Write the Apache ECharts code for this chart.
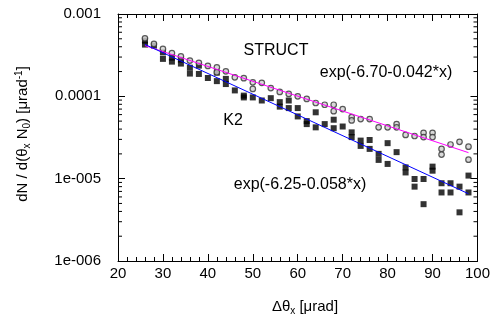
<!DOCTYPE html>
<html><head><meta charset="utf-8">
<script src="https://cdn.jsdelivr.net/npm/echarts@6/dist/echarts.min.js"></script>
<style>html,body{margin:0;padding:0;background:#fff}#c{width:493px;height:320px}</style>
</head><body><div id="c"></div>
<script>
// ---- data ----
const xValues = [26,28,30,32,34,36,38,40,42,44,46,48,50,52,54,56,58,60,62,64,66,68,70,72,74,76,78,80,82,84,86,88,90,92,94,96,98];
const structA = [5.07e-4,4.33e-4,3.77e-4,3.35e-4,3.05e-4,2.72e-4,2.55e-4,2.34e-4,2.25e-4,2.01e-4,1.70e-4,1.66e-4,1.48e-4,1.46e-4,1.26e-4,1.13e-4,1.07e-4,1.00e-4,9.3e-5,8.3e-5,7.9e-5,7.9e-5,7.0e-5,5.6e-5,5.3e-5,5.3e-5,4.2e-5,4.2e-5,4.6e-5,3.4e-5,3.3e-5,3.6e-5,3.6e-5,2.3e-5,2.6e-5,2.8e-5,2.45e-5];
const structBX = [42,50,68,72,82,88,90,92,98];
const structBY = [1.96e-4,1.23e-4,6.6e-5,5.1e-5,4.2e-5,3.2e-5,3.2e-5,1.96e-5,1.7e-5];
const k2A = [4.75e-4,4.13e-4,3.42e-4,2.95e-4,2.79e-4,2.23e-4,2.36e-4,1.67e-4,1.94e-4,1.63e-4,1.18e-4,1.02e-4,9.7e-5,8.9e-5,9.5e-5,8.5e-5,8.9e-5,7.2e-5,5.0e-5,6.4e-5,4.6e-5,5.2e-5,4.3e-5,3.65e-5,2.9e-5,2.95e-5,2.0e-5,2.7e-5,2.1e-5,1.37e-5,9.9e-6,9.9e-6,1.40e-5,8.8e-6,8.8e-6,8.0e-6,1.09e-5];
const k2BX = [26,30,32,34,36,38,42,44,48,56,58,60,62,64,68,72,74,76,78,80,84,86,88,90,92,94,96,98];
const k2BY = [4.25e-4,2.85e-4,2.64e-4,2.50e-4,1.89e-4,1.87e-4,1.53e-4,1.41e-4,9.7e-5,7.5e-5,7.2e-5,5.7e-5,4.6e-5,4.2e-5,4.1e-5,3.2e-5,2.5e-5,2.3e-5,1.69e-5,1.51e-5,1.19e-5,8.0e-6,4.9e-6,1.25e-5,6.8e-6,6.8e-6,3.9e-6,6.8e-6];
const fitX = [26, 98];
const structFit = [4.13e-4, 2.07e-5];
const k2Fit = [4.27e-4, 6.56e-6];
const xTickLabels = ['20','30','40','50','60','70','80','90','100'];
const yTickLabels = ['1e-006','1e-005','0.0001','0.001'];
const yMinorTicks = [2e-6,3e-6,4e-6,5e-6,6e-6,7e-6,8e-6,9e-6,2e-5,3e-5,4e-5,5e-5,6e-5,7e-5,8e-5,9e-5,2e-4,3e-4,4e-4,5e-4,6e-4,7e-4,8e-4,9e-4];

const FONT = 'Liberation Sans';
const pairs = (xs, ys) => xs.map((x, i) => [x, ys[i]]);
const chart = echarts.init(document.getElementById('c'), null, {renderer: 'canvas'});

const axisCommonX = {
  type: 'value', min: 20, max: 100, interval: 10,
  axisLine: {show: true, onZero: false, lineStyle: {color: '#000', width: 1}},
  axisTick: {show: true, inside: true, length: 7, lineStyle: {color: '#000', width: 1}},
  minorTick: {show: true, splitNumber: 5, length: 4, lineStyle: {color: '#000', width: 1}},
  splitLine: {show: false}, minorSplitLine: {show: false}
};
const axisCommonY = {
  type: 'log', logBase: 10, min: 1e-6, max: 1e-3,
  axisLine: {show: true, onZero: false, lineStyle: {color: '#000', width: 1}},
  axisTick: {show: true, inside: true, length: 7, lineStyle: {color: '#000', width: 1}},
  splitLine: {show: false}
};
const circleStyle = {color: '#d0d0d0', borderColor: '#333', borderWidth: 1.2};

const option = {
  animation: false,
  backgroundColor: '#fff',
  grid: {left: 118, right: 15, top: 14, bottom: 59, containLabel: false},
  xAxis: [
    Object.assign({}, axisCommonX, {position: 'bottom',
      axisLabel: {color: '#000', fontSize: 15, fontFamily: FONT, margin: 5,
        formatter: (v, i) => xTickLabels[i]}}),
    Object.assign({}, axisCommonX, {position: 'top', axisLabel: {show: false}})
  ],
  yAxis: [
    Object.assign({}, axisCommonY, {position: 'left',
      axisLabel: {color: '#000', fontSize: 15, fontFamily: FONT, margin: 17,
        formatter: v => yTickLabels[Math.round(Math.log10(v)) + 6]}}),
    Object.assign({}, axisCommonY, {position: 'right', axisLabel: {show: false}})
  ],
  series: [
    {
      type: 'custom', xAxisIndex: 0, yAxisIndex: 0, clip: false, silent: true,
      data: yMinorTicks.map(v => [20, v]),
      renderItem: (params, api) => {
        const v = api.value(1);
        const p1 = api.coord([20, v]);
        const p2 = api.coord([100, v]);
        const st = {stroke: '#000', lineWidth: 1};
        return {type: 'group', children: [
          {type: 'line', shape: {x1: p1[0], y1: p1[1], x2: p1[0] + 4, y2: p1[1]}, style: st},
          {type: 'line', shape: {x1: p2[0] - 4, y1: p2[1], x2: p2[0], y2: p2[1]}, style: st}
        ]};
      }
    },
    {type: 'scatter', data: pairs(xValues, k2A), symbol: 'rect', symbolSize: 6, itemStyle: {color: '#000'}},
    {type: 'scatter', data: pairs(k2BX, k2BY), symbol: 'rect', symbolSize: 6, itemStyle: {color: '#000'}},
    {type: 'scatter', data: pairs(xValues, structA), symbol: 'circle', symbolSize: 5.5, itemStyle: circleStyle},
    {type: 'scatter', data: pairs(structBX, structBY), symbol: 'circle', symbolSize: 5.5, itemStyle: circleStyle},
    {type: 'line', data: pairs(fitX, structFit), showSymbol: false, symbol: 'none',
      lineStyle: {color: '#ff00ff', width: 1}, z: 5},
    {type: 'line', data: pairs(fitX, k2Fit), showSymbol: false, symbol: 'none',
      lineStyle: {color: '#0000ff', width: 1}, z: 5}
  ],
  graphic: [
    {type: 'text', x: 276, y: 51, style: {text: 'STRUCT', fill: '#000', fontSize: 16, fontFamily: FONT, align: 'center', verticalAlign: 'middle'}},
    {type: 'text', x: 386, y: 73, style: {text: 'exp(-6.70-0.042*x)', fill: '#000', fontSize: 16, fontFamily: FONT, align: 'center', verticalAlign: 'middle'}},
    {type: 'text', x: 233, y: 121, style: {text: 'K2', fill: '#000', fontSize: 16, fontFamily: FONT, align: 'center', verticalAlign: 'middle'}},
    {type: 'text', x: 300, y: 185, style: {text: 'exp(-6.25-0.058*x)', fill: '#000', fontSize: 16, fontFamily: FONT, align: 'center', verticalAlign: 'middle'}},
    {type: 'text', x: 23, y: 134, rotation: Math.PI / 2,
      style: {text: '{a|dN / d(θ}{s|x}{a| N}{s|0}{a|) [μrad}{p|-1}{a|]}', align: 'center', verticalAlign: 'middle',
        rich: {
          a: {fontSize: 15, fontFamily: FONT, fill: '#000', lineHeight: 18},
          s: {fontSize: 10, fontFamily: FONT, fill: '#000', lineHeight: 10, verticalAlign: 'bottom'},
          p: {fontSize: 10, fontFamily: FONT, fill: '#000', lineHeight: 10, verticalAlign: 'top'}
        }}},
    {type: 'text', x: 305, y: 307,
      style: {text: '{a|Δθ}{s|x}{a| [μrad]}', align: 'center', verticalAlign: 'middle',
        rich: {
          a: {fontSize: 15, fontFamily: FONT, fill: '#000', lineHeight: 18},
          s: {fontSize: 10, fontFamily: FONT, fill: '#000', lineHeight: 10, verticalAlign: 'bottom'}
        }}}
  ]
};
chart.setOption(option);
</script></body></html>
